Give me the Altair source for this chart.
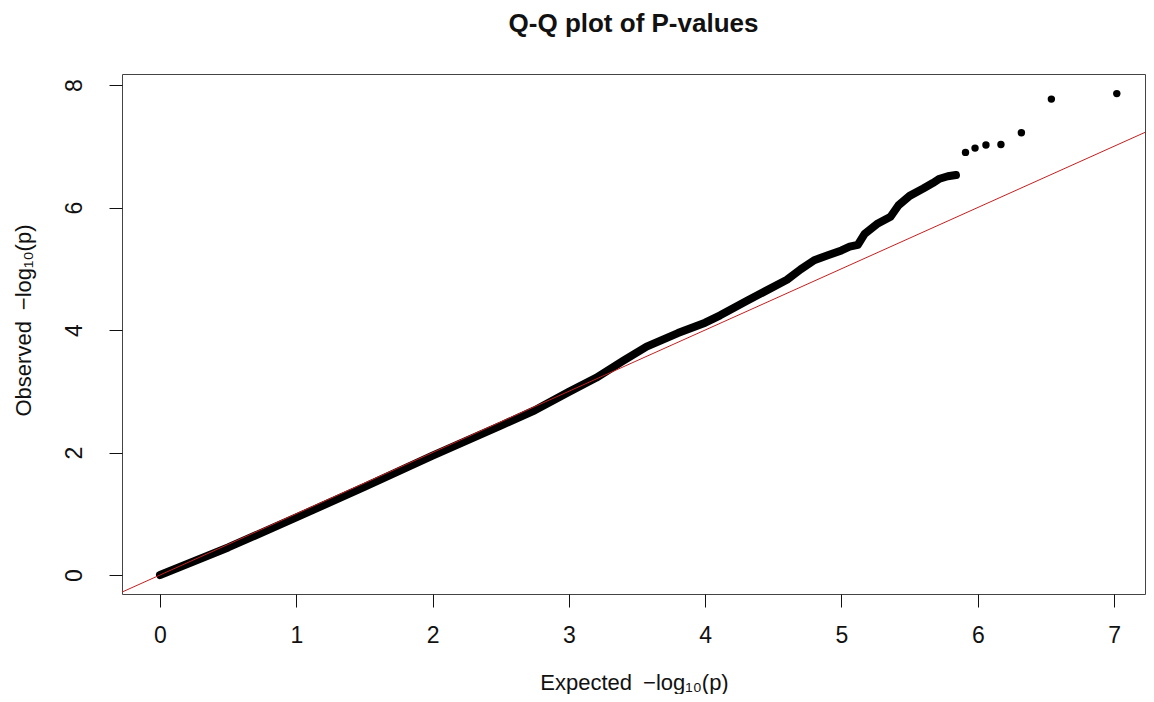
import altair as alt
import pandas as pd

# Dense part of the Q-Q curve (expected, observed -log10 p)
exp_curve = [0.0, 0.5, 1.0, 1.5, 2.0, 2.5, 2.75, 3.0, 3.2, 3.4, 3.57, 3.8, 4.0, 4.11,
             4.3, 4.6, 4.7, 4.8, 4.9, 5.0, 5.06, 5.12, 5.17, 5.26, 5.36, 5.42, 5.5,
             5.6, 5.67, 5.72, 5.78, 5.84]
obs_curve = [0.0, 0.45, 0.94, 1.44, 1.95, 2.44, 2.69, 2.99, 3.22, 3.50, 3.73, 3.95, 4.12, 4.24,
             4.47, 4.82, 4.99, 5.14, 5.22, 5.30, 5.36, 5.39, 5.57, 5.73, 5.85, 6.04, 6.19,
             6.31, 6.40, 6.47, 6.51, 6.53]
# Isolated tail points
exp_tail = [5.91, 5.98, 6.06, 6.17, 6.32, 6.54, 7.02]
obs_tail = [6.90, 6.97, 7.02, 7.03, 7.22, 7.77, 7.86]
# Reference line y = x
ref_line = [-1.0, 8.0]

x_ticks = [0, 1, 2, 3, 4, 5, 6, 7]
y_ticks = [0, 2, 4, 6, 8]

FONT = "Liberation Sans"

curve = pd.DataFrame({"e": exp_curve, "o": obs_curve, "i": list(range(len(exp_curve)))})
tail = pd.DataFrame({"e": exp_tail, "o": obs_tail})
ref = pd.DataFrame({"e": ref_line, "o": ref_line})

xscale = alt.Scale(domain=[-0.2788, 7.227], nice=False, zero=False)
yscale = alt.Scale(domain=[-0.31, 8.18], nice=False, zero=False)

xaxis = alt.Axis(values=x_ticks, title="Expected\u2002−log₁₀(p)", grid=False, domain=False,
                 tickSize=13, tickColor="#111", labelFontSize=23, labelColor="#111",
                 labelPadding=28, labelBaseline="middle", labelFont=FONT,
                 titleFont=FONT, titleFontSize=22, titleFontWeight="normal", titleColor="#111",
                 titleX=512, titleY=88, titleBaseline="middle", titleAlign="center")
yaxis = alt.Axis(values=y_ticks, title="Observed\u2002−log₁₀(p)", grid=False, domain=False,
                 tickSize=13, tickColor="#111", labelFontSize=23, labelColor="#111",
                 labelAngle=270, labelAlign="center", labelBaseline="middle",
                 labelPadding=35, labelFont=FONT,
                 titleFont=FONT, titleFontSize=22, titleFontWeight="normal", titleColor="#111",
                 titleAngle=270, titleX=-99, titleY=246, titleBaseline="middle",
                 titleAlign="center")

base_x = alt.X("e:Q", scale=xscale, axis=xaxis)
base_y = alt.Y("o:Q", scale=yscale, axis=yaxis)

band = alt.Chart(curve).mark_line(color="black", strokeWidth=8, strokeCap="round",
                                  strokeJoin="round").encode(x=base_x, y=base_y, order="i:Q")
pts = alt.Chart(tail).mark_circle(color="black", size=55, opacity=1).encode(x=base_x, y=base_y)
line = alt.Chart(ref).mark_line(color="#c42020", strokeWidth=1, clip=True).encode(x=base_x, y=base_y)

chart = alt.layer(band, pts, line).properties(
    width=1023, height=520,
    padding={"left": 114, "top": 66, "right": 1, "bottom": 100},
    autosize=alt.AutoSizeParams(type="none"),
    title=alt.TitleParams("Q-Q plot of P-values", font=FONT, fontSize=26, fontWeight="bold",
                          color="#111", anchor="middle", offset=37),
).configure_view(stroke="#444", strokeWidth=1)

chart.save("out.html", embed_options={"renderer": "svg", "actions": False})
